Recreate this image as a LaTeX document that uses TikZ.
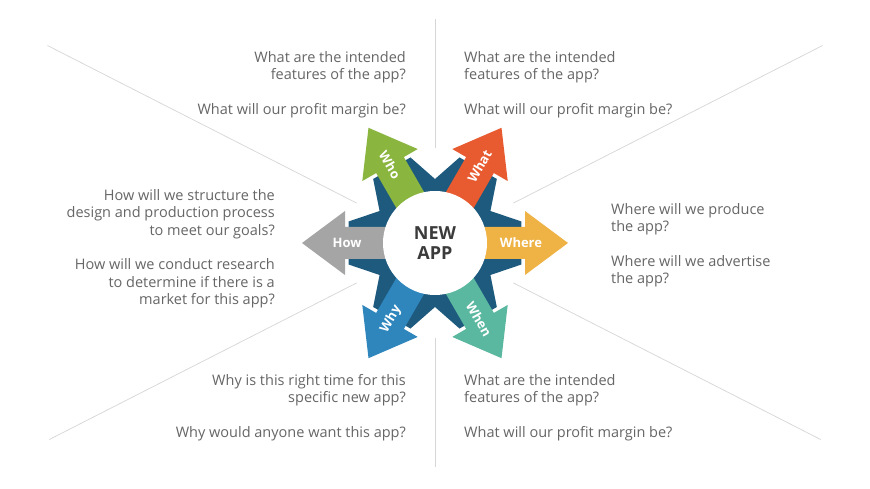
\documentclass[tikz,border=0pt]{standalone}
\usepackage{fontspec}
\setmainfont{Open Sans}
\usepackage{xcolor}
\usepackage{tikz}
\usetikzlibrary{calc}

\definecolor{whocol}{HTML}{8AB53F}
\definecolor{whatcol}{HTML}{E85A30}
\definecolor{wherecol}{HTML}{EFB245}
\definecolor{whencol}{HTML}{5BB8A0}
\definecolor{whycol}{HTML}{2E86BD}
\definecolor{howcol}{HTML}{A5A5A5}
\definecolor{starcol}{HTML}{1E5A7E}
\definecolor{textcol}{HTML}{666666}
\definecolor{appcol}{HTML}{3B3B3B}
\definecolor{linecol}{HTML}{D6D6D6}

\tikzset{
  question/.style={inner sep=0pt, text=textcol, font=\fontsize{14.5}{17.5}\selectfont},
  qleft/.style={question, align=right, anchor=north east},
  qright/.style={question, align=left, anchor=north west},
  arrowlabel/.style={inner sep=0pt, text=white, font=\bfseries\fontsize{13}{15}\selectfont},
  guide/.style={draw=linecol, line width=0.7pt}
}

\begin{document}
\begin{tikzpicture}[x=1pt,y=1pt]
\useasboundingbox (0,0) rectangle (870,489);
\fill[white] (0,0) rectangle (870,489);
\coordinate (c) at (435,246);

% guide lines
\draw[guide] ($(c)+(153:88)$) -- ($(c)+(153:435)$);
\draw[guide] ($(c)+(27:88)$) -- ($(c)+(27:435)$);
\draw[guide] ($(c)+(207:88)$) -- ($(c)+(207:433)$);
\draw[guide] ($(c)+(333:88)$) -- ($(c)+(333:433)$);
\draw[guide] ($(c)+(90:95)$) -- ($(c)+(90:224)$);
\draw[guide] ($(c)+(270:95)$) -- ($(c)+(270:224)$);

% dark star behind the arrows
\fill[starcol, shift={(c)}] (-14:89) -- (14:89) -- (30:64) -- (46:89) -- (74:89) -- (90:64)
  -- (106:89) -- (134:89) -- (150:64) -- (166:89) -- (194:89) -- (210:64)
  -- (226:89) -- (254:89) -- (270:64) -- (286:89) -- (314:89) -- (330:64) -- cycle;

% the six arrows
\begin{scope}[shift={(c)}, rotate=0]
\fill[wherecol] (0,-16) -- (90,-16) -- (90,-32) -- (133,0) -- (90,32) -- (90,16) -- (0,16) -- cycle;
\node[arrowlabel] (where) at (86,0) {Where};
\end{scope}
\begin{scope}[shift={(c)}, rotate=60]
\fill[whatcol] (0,-16) -- (90,-16) -- (90,-32) -- (133,0) -- (90,32) -- (90,16) -- (0,16) -- cycle;
\node[arrowlabel, rotate=60] (what) at (89,0) {What};
\end{scope}
\begin{scope}[shift={(c)}, rotate=120]
\fill[whocol] (0,-16) -- (90,-16) -- (90,-32) -- (133,0) -- (90,32) -- (90,16) -- (0,16) -- cycle;
\node[arrowlabel, rotate=-60] (who) at (90,0) {Who};
\end{scope}
\begin{scope}[shift={(c)}, rotate=180]
\fill[howcol] (0,-16) -- (90,-16) -- (90,-32) -- (133,0) -- (90,32) -- (90,16) -- (0,16) -- cycle;
\node[arrowlabel] (how) at (88,0) {How};
\end{scope}
\begin{scope}[shift={(c)}, rotate=240]
\fill[whycol] (0,-16) -- (90,-16) -- (90,-32) -- (133,0) -- (90,32) -- (90,16) -- (0,16) -- cycle;
\node[arrowlabel, rotate=60] (why) at (88,0) {Why};
\end{scope}
\begin{scope}[shift={(c)}, rotate=300]
\fill[whencol] (0,-16) -- (90,-16) -- (90,-32) -- (133,0) -- (90,32) -- (90,16) -- (0,16) -- cycle;
\node[arrowlabel, rotate=-60] (when) at (88,0) {When};
\end{scope}

\node[circle, fill=white, minimum size=104pt, inner sep=0pt, align=center, text=appcol,
  font=\bfseries\fontsize{18}{20}\selectfont] (app) at (c) {NEW\\APP};

% questions
\node[qleft] (qwho) at (406,438) {What are the intended\\features of the app?\\[17.5pt]What will our profit margin be?};
\node[qright] (qwhat) at (464,438) {What are the intended\\features of the app?\\[17.5pt]What will our profit margin be?};
\node[qleft] (qhow) at (275,300) {How will we structure the\\design and production process\\to meet our goals?\\[17pt]How will we conduct research\\to determine if there is a\\market for this app?};
\node[qright] (qwhere) at (611,286) {Where will we produce\\the app?\\[17pt]Where will we advertise\\the app?};
\node[qleft] (qwhy) at (406,115) {Why is this right time for this\\specific new app?\\[17.5pt]Why would anyone want this app?};
\node[qright] (qwhen) at (464,115) {What are the intended\\features of the app?\\[17.5pt]What will our profit margin be?};
\end{tikzpicture}
\end{document}
